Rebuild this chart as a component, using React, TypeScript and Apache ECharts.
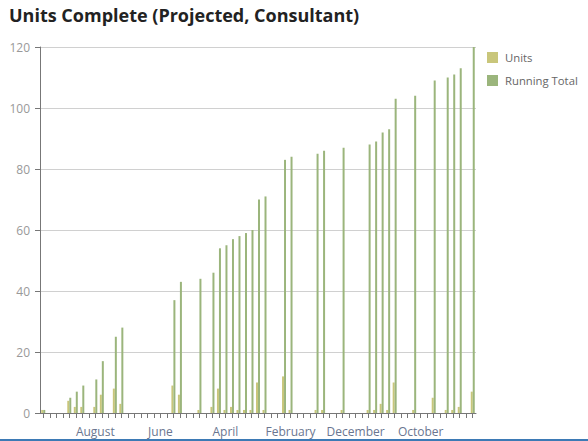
import React, { useEffect, useRef } from "react";
import * as echarts from "echarts";

const title = "Units Complete (Projected, Consultant)";

// 67 categories; only some carry a visible label
const categories: string[] = [
  "", "", "", "", "", "", "", "", "August", "",
  "", "", "", "", "", "", "", "", "June", "",
  "", "", "", "", "", "", "", "", "April", "",
  "", "", "", "", "", "", "", "", "February", "",
  "", "", "", "", "", "", "", "", "December", "",
  "", "", "", "", "", "", "", "", "October", "",
  "", "", "", "", "", "", "",
];

const units: (number | null)[] = [
  1, null, null, null, 4, 2, 2, null, 2, 6,
  null, 8, 3, null, null, null, null, null, null, null,
  9, 6, null, null, 1, null, 2, 8, 1, 2,
  1, 1, 1, 10, 1, null, null, 12, 1, null,
  null, null, 1, 1, null, null, 1, null, null, null,
  1, 1, 3, 1, 10, null, null, 1, null, null,
  5, null, 1, 1, 2, null, 7,
];

const runningTotal: (number | null)[] = [
  1, null, null, null, 5, 7, 9, null, 11, 17,
  null, 25, 28, null, null, null, null, null, null, null,
  37, 43, null, null, 44, null, 46, 54, 55, 57,
  58, 59, 60, 70, 71, null, null, 83, 84, null,
  null, null, 85, 86, null, null, 87, null, null, null,
  88, 89, 92, 93, 103, null, null, 104, null, null,
  109, null, 110, 111, 113, null, 120,
];

const FONT = "'Open Sans', 'Noto Sans', sans-serif";

export default function App() {
  const ref = useRef<HTMLDivElement>(null);
  useEffect(() => {
    if (!ref.current) return;
    const chart = echarts.init(ref.current, undefined, { renderer: "svg" });
    chart.setOption({
      animation: false,
      backgroundColor: "#ffffff",
      title: {
        text: title,
        left: 9,
        top: 6,
        padding: 0,
        textStyle: {
          fontFamily: FONT,
          fontWeight: "bold",
          fontSize: 18,
          color: "#222222",
        },
      },
      legend: {
        orient: "vertical",
        left: 487,
        top: 52,
        padding: 0,
        itemWidth: 11,
        itemHeight: 11,
        itemGap: 12,
        icon: "rect",
        textStyle: {
          fontFamily: FONT,
          fontSize: 11.3,
          color: "#666666",
          padding: [0, 0, 0, 2],
        },
        data: ["Units", "Running Total"],
      },
      grid: { left: 40, right: 112, top: 47, bottom: 28, containLabel: false },
      xAxis: {
        type: "category",
        data: categories,
        boundaryGap: true,
        axisLine: { show: true, lineStyle: { color: "#777777", width: 1 } },
        axisTick: {
          show: true,
          interval: 0,
          alignWithLabel: true,
          length: 5,
          lineStyle: { color: "#777777" },
        },
        axisLabel: {
          interval: 0,
          margin: 12,
          fontFamily: FONT,
          fontSize: 12,
          color: "#6a7690",
        },
        splitLine: { show: false },
      },
      yAxis: {
        type: "value",
        min: 0,
        max: 120,
        interval: 20,
        axisLine: { show: true, lineStyle: { color: "#777777", width: 1 } },
        axisTick: { show: true, length: 5, lineStyle: { color: "#777777" } },
        axisLabel: {
          margin: 10,
          fontFamily: FONT,
          fontSize: 12,
          color: "#999999",
        },
        splitLine: { show: true, lineStyle: { color: "#d0d0d0", width: 1 } },
      },
      series: [
        {
          name: "Units",
          type: "bar",
          data: units,
          barWidth: 2,
          barGap: "0%",
          itemStyle: { color: "#c9c67b" },
        },
        {
          name: "Running Total",
          type: "bar",
          data: runningTotal,
          barWidth: 2,
          barGap: "0%",
          itemStyle: { color: "#9bb57c" },
        },
      ],
      graphic: [
        {
          type: "rect",
          left: 0,
          bottom: 0,
          shape: { width: 588, height: 2 },
          style: { fill: "#3d7ab5" },
          silent: true,
        },
      ],
    });
    return () => chart.dispose();
  }, []);
  return (
    <div
      ref={ref}
      style={{ position: "fixed", left: 0, top: 0, width: 588, height: 441 }}
    />
  );
}
